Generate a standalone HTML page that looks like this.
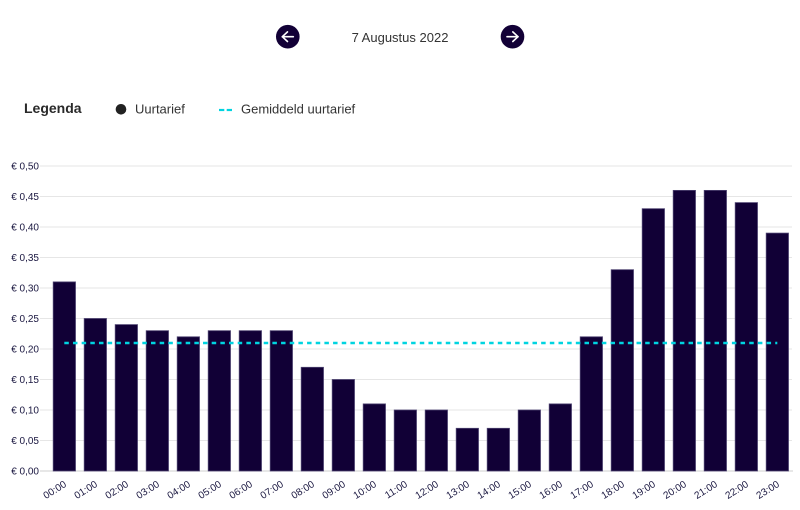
<!DOCTYPE html>
<html>
<head>
<meta charset="utf-8">
<style>
  html,body{margin:0;padding:0;background:#fff;}
  body{width:800px;height:510px;overflow:hidden;font-family:"Liberation Sans",Arial,sans-serif;}
  svg{display:block;}
</style>
</head>
<body>
<svg width="800" height="510" viewBox="0 0 800 510" xmlns="http://www.w3.org/2000/svg" font-family="Liberation Sans, Arial, sans-serif">
  <!-- Header -->
  <circle cx="287.8" cy="36.7" r="11.8" fill="#120036"/>
  <g stroke="#fff" stroke-width="1.6" fill="none" stroke-linecap="round" stroke-linejoin="round">
    <line x1="282.3" y1="36.7" x2="293.3" y2="36.7"/>
    <polyline points="287.5,31.9 282.3,36.7 287.5,41.5"/>
  </g>
  <text x="400" y="42" font-size="13" fill="#333" text-anchor="middle">7 Augustus 2022</text>
  <circle cx="512.5" cy="36.7" r="11.8" fill="#120036"/>
  <g stroke="#fff" stroke-width="1.6" fill="none" stroke-linecap="round" stroke-linejoin="round">
    <line x1="507" y1="36.7" x2="518" y2="36.7"/>
    <polyline points="512.8,31.9 518,36.7 512.8,41.5"/>
  </g>

  <!-- Legend -->
  <text x="24" y="113" font-size="14" font-weight="bold" fill="#2a2a2a">Legenda</text>
  <circle cx="121" cy="109.3" r="5.3" fill="#222"/>
  <text x="135" y="113.5" font-size="13" fill="#333">Uurtarief</text>
  <line x1="219" y1="110" x2="224.3" y2="110" stroke="#00d4e0" stroke-width="2.2"/>
  <line x1="226.7" y1="110" x2="232" y2="110" stroke="#00d4e0" stroke-width="2.2"/>
  <text x="241" y="113.5" font-size="13" fill="#333">Gemiddeld uurtarief</text>

  <!-- Gridlines -->
  <g stroke="#e6e6e6" stroke-width="1">
    <line x1="40" y1="166" x2="792" y2="166"/>
    <line x1="40" y1="196.5" x2="792" y2="196.5"/>
    <line x1="40" y1="227" x2="792" y2="227"/>
    <line x1="40" y1="257.5" x2="792" y2="257.5"/>
    <line x1="40" y1="288" x2="792" y2="288"/>
    <line x1="40" y1="318.5" x2="792" y2="318.5"/>
    <line x1="40" y1="349" x2="792" y2="349"/>
    <line x1="40" y1="379.5" x2="792" y2="379.5"/>
    <line x1="40" y1="410" x2="792" y2="410"/>
    <line x1="40" y1="440.5" x2="792" y2="440.5"/>
  </g>
  <line x1="40" y1="471" x2="793" y2="471" stroke="#cfcfcf" stroke-width="1"/>

  <!-- Y labels -->
  <g font-size="10" fill="#1a1740" text-anchor="end">
    <text x="39" y="169.5">€ 0,50</text>
    <text x="39" y="200">€ 0,45</text>
    <text x="39" y="230.5">€ 0,40</text>
    <text x="39" y="261">€ 0,35</text>
    <text x="39" y="291.5">€ 0,30</text>
    <text x="39" y="322">€ 0,25</text>
    <text x="39" y="352.5">€ 0,20</text>
    <text x="39" y="383">€ 0,15</text>
    <text x="39" y="413.5">€ 0,10</text>
    <text x="39" y="444">€ 0,05</text>
    <text x="39" y="474.5">€ 0,00</text>
  </g>

  <!-- Bars: y = 471 - v*610, x = 53.15 + i*31 -->
  <g fill="#110036" stroke="#4d4270" stroke-width="0.8">
    <rect x="53.2" y="281.9" width="22.3" height="189.1"/>
    <rect x="84.2" y="318.5" width="22.3" height="152.5"/>
    <rect x="115.2" y="324.6" width="22.3" height="146.4"/>
    <rect x="146.2" y="330.7" width="22.3" height="140.3"/>
    <rect x="177.2" y="336.8" width="22.3" height="134.2"/>
    <rect x="208.2" y="330.7" width="22.3" height="140.3"/>
    <rect x="239.2" y="330.7" width="22.3" height="140.3"/>
    <rect x="270.2" y="330.7" width="22.3" height="140.3"/>
    <rect x="301.2" y="367.3" width="22.3" height="103.7"/>
    <rect x="332.2" y="379.5" width="22.3" height="91.5"/>
    <rect x="363.2" y="403.9" width="22.3" height="67.1"/>
    <rect x="394.2" y="410" width="22.3" height="61"/>
    <rect x="425.2" y="410" width="22.3" height="61"/>
    <rect x="456.2" y="428.3" width="22.3" height="42.7"/>
    <rect x="487.2" y="428.3" width="22.3" height="42.7"/>
    <rect x="518.2" y="410" width="22.3" height="61"/>
    <rect x="549.2" y="403.9" width="22.3" height="67.1"/>
    <rect x="580.2" y="336.8" width="22.3" height="134.2"/>
    <rect x="611.2" y="269.7" width="22.3" height="201.3"/>
    <rect x="642.2" y="208.7" width="22.3" height="262.3"/>
    <rect x="673.2" y="190.4" width="22.3" height="280.6"/>
    <rect x="704.2" y="190.4" width="22.3" height="280.6"/>
    <rect x="735.2" y="202.6" width="22.3" height="268.4"/>
    <rect x="766.2" y="233.1" width="22.3" height="237.9"/>
  </g>

  <!-- Average line -->
  <line x1="64.3" y1="343" x2="777.3" y2="343" stroke="#00d4e0" stroke-width="2.6" stroke-dasharray="4.5 4.17"/>

  <!-- X labels -->
  <g font-size="10" fill="#1a1740" text-anchor="end">
    <text transform="translate(65.3,483) rotate(-32)" dy="3.5">00:00</text>
    <text transform="translate(96.3,483) rotate(-32)" dy="3.5">01:00</text>
    <text transform="translate(127.3,483) rotate(-32)" dy="3.5">02:00</text>
    <text transform="translate(158.3,483) rotate(-32)" dy="3.5">03:00</text>
    <text transform="translate(189.3,483) rotate(-32)" dy="3.5">04:00</text>
    <text transform="translate(220.3,483) rotate(-32)" dy="3.5">05:00</text>
    <text transform="translate(251.3,483) rotate(-32)" dy="3.5">06:00</text>
    <text transform="translate(282.3,483) rotate(-32)" dy="3.5">07:00</text>
    <text transform="translate(313.3,483) rotate(-32)" dy="3.5">08:00</text>
    <text transform="translate(344.3,483) rotate(-32)" dy="3.5">09:00</text>
    <text transform="translate(375.3,483) rotate(-32)" dy="3.5">10:00</text>
    <text transform="translate(406.3,483) rotate(-32)" dy="3.5">11:00</text>
    <text transform="translate(437.3,483) rotate(-32)" dy="3.5">12:00</text>
    <text transform="translate(468.3,483) rotate(-32)" dy="3.5">13:00</text>
    <text transform="translate(499.3,483) rotate(-32)" dy="3.5">14:00</text>
    <text transform="translate(530.3,483) rotate(-32)" dy="3.5">15:00</text>
    <text transform="translate(561.3,483) rotate(-32)" dy="3.5">16:00</text>
    <text transform="translate(592.3,483) rotate(-32)" dy="3.5">17:00</text>
    <text transform="translate(623.3,483) rotate(-32)" dy="3.5">18:00</text>
    <text transform="translate(654.3,483) rotate(-32)" dy="3.5">19:00</text>
    <text transform="translate(685.3,483) rotate(-32)" dy="3.5">20:00</text>
    <text transform="translate(716.3,483) rotate(-32)" dy="3.5">21:00</text>
    <text transform="translate(747.3,483) rotate(-32)" dy="3.5">22:00</text>
    <text transform="translate(778.3,483) rotate(-32)" dy="3.5">23:00</text>
  </g>
</svg>
</body>
</html>
